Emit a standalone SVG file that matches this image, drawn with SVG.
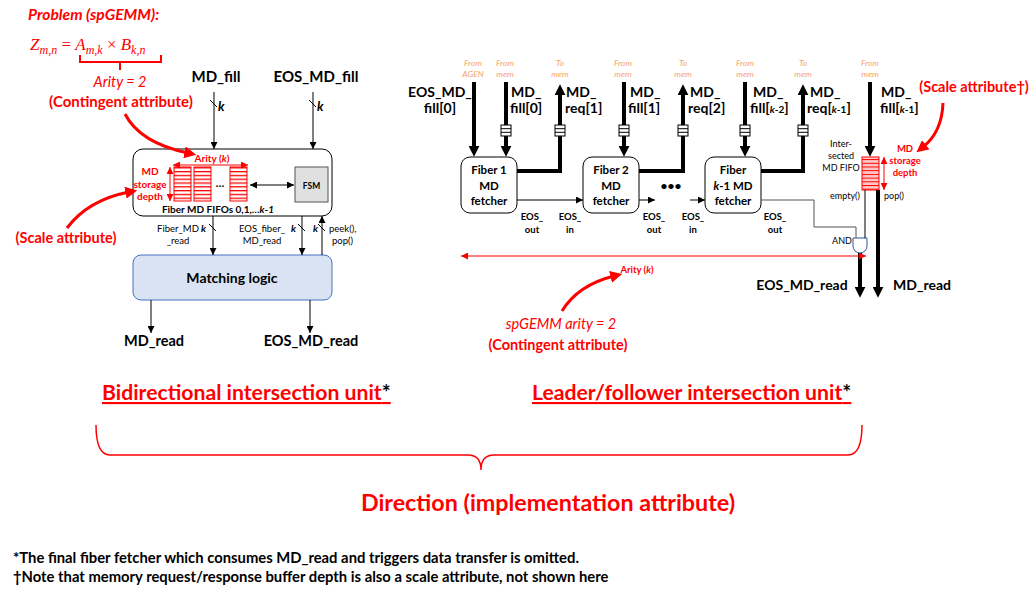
<svg xmlns="http://www.w3.org/2000/svg" width="1034" height="589" viewBox="0 0 1034 589">
<style>
text{font-family:Lato,"Open Sans","Liberation Sans",sans-serif}
.b{font-weight:bold}
.red{fill:#ff0000}
.big{font-size:15px;font-weight:bold}
.sm{font-size:10px}
.xs{font-size:8.5px}
.org{fill:#f4a36a;font-style:italic;font-size:8.5px}
.ln{stroke:#000;stroke-width:1;fill:none}
.thk{stroke:#000;stroke-width:4;fill:none}
.rln{stroke:#ff0000;stroke-width:1;fill:none}
.rcurve{stroke:#ff0000;stroke-width:3;fill:none}
.box{fill:#fff;stroke:#000;stroke-width:1}
.fifo{fill:#fff;stroke:#ff0000;stroke-width:1}
.q{fill:#fff;stroke:#000;stroke-width:1}
</style>
<defs>
<marker id="ah" viewBox="0 0 10 10" refX="10" refY="5" markerWidth="7" markerHeight="7" markerUnits="userSpaceOnUse" orient="auto-start-reverse"><path d="M0,0 L10,5 L0,10 z" fill="#000"/></marker>
<marker id="aht" viewBox="0 0 10 10" refX="2" refY="5" markerWidth="11" markerHeight="11" markerUnits="userSpaceOnUse" orient="auto-start-reverse"><path d="M0,0 L10,5 L0,10 z" fill="#000"/></marker>
<marker id="ahr" viewBox="0 0 10 10" refX="10" refY="5" markerWidth="7" markerHeight="7" markerUnits="userSpaceOnUse" orient="auto-start-reverse"><path d="M0,0 L10,5 L0,10 z" fill="#ff0000"/></marker>
<marker id="ahrc" viewBox="0 0 10 10" refX="3" refY="5" markerWidth="12" markerHeight="12" markerUnits="userSpaceOnUse" orient="auto"><path d="M0,0 L10,5 L0,10 z" fill="#ff0000"/></marker>
<pattern id="stripe" x="0" y="0" width="20" height="3.8" patternUnits="userSpaceOnUse"><rect width="20" height="3.8" fill="#fff"/><rect width="20" height="1.3" fill="#ff0000"/></pattern>
<pattern id="stripe2" x="0" y="0" width="20" height="3.7" patternUnits="userSpaceOnUse"><rect width="20" height="3.7" fill="#ffc8c8"/><rect width="20" height="1" fill="#ff0000"/></pattern>
</defs>

<!-- Problem statement -->
<g id="problem">
<text x="28" y="20" class="red b" font-size="15.6" font-style="italic">Problem (spGEMM):</text>
<text x="30" y="50" class="red" font-size="17" font-style="italic" style="font-family:'Liberation Serif',serif">Z<tspan font-size="12" dy="4">m,n</tspan><tspan dy="-4" font-style="normal"> = </tspan>A<tspan font-size="12" dy="4">m,k</tspan><tspan dy="-4" font-style="normal"> × </tspan>B<tspan font-size="12" dy="4">k,n</tspan></text>
<path d="M80,55 L80,62 L161,62 L161,55 M120,62 L120,70" stroke="#ff0000" stroke-width="2" fill="none"/>
<text x="120" y="87" class="red" font-size="14.5" font-style="italic" text-anchor="middle">Arity = 2</text>
<text x="121" y="107" class="red b" font-size="15" text-anchor="middle">(Contingent attribute)</text>
</g>

<g id="scale-left">
<text x="66" y="243" class="red b" font-size="14.5" text-anchor="middle">(Scale attribute)</text>
</g>

<!-- Bidirectional unit -->
<g id="fifo-block">
<rect x="133" y="149" width="199" height="67" rx="10" class="box"/>
<text x="212" y="162" class="red b sm" text-anchor="middle">Arity (<tspan font-style="italic">k</tspan>)</text>
<rect x="174" y="167" width="17" height="34" fill="url(#stripe)" stroke="#ff0000"/>
<rect x="194" y="167" width="17" height="34" fill="url(#stripe)" stroke="#ff0000"/>
<rect x="230" y="167" width="17" height="34" fill="url(#stripe)" stroke="#ff0000"/>
<text x="220" y="187" font-size="11" class="b" text-anchor="middle">…</text>
<text x="150" y="175" class="red b sm" text-anchor="middle">MD</text>
<text x="150" y="188" class="red b sm" text-anchor="middle">storage</text>
<text x="150" y="200" class="red b sm" text-anchor="middle">depth</text>
<text x="218" y="213" class="b sm" text-anchor="middle">Fiber MD FIFOs 0,1,…<tspan font-style="italic">k</tspan>-<tspan font-style="italic">1</tspan></text>
</g>
<g id="fsm">
<rect x="295" y="167" width="33" height="35" fill="#e0e0e0" stroke="#555"/>
<text x="311.5" y="189" font-size="8.5" class="b" text-anchor="middle">FSM</text>
</g>
<g id="matching-logic">
<rect x="133" y="255" width="199" height="45" rx="8" fill="#dae3f3" stroke="#4472c4" stroke-width="1"/>
<text x="232" y="283" class="b" font-size="14" text-anchor="middle">Matching logic</text>
</g>

<g id="left-labels">
<text x="216" y="82" class="big" text-anchor="middle">MD_fill</text>
<text x="316" y="82" class="big" text-anchor="middle">EOS_MD_fill</text>
<text x="218" y="111" class="b" font-size="13" font-style="italic">k</text>
<text x="317" y="111" class="b" font-size="13" font-style="italic">k</text>
<text x="178" y="232" font-size="9.5" text-anchor="middle">Fiber_MD</text>
<text x="178" y="244" font-size="9.5" text-anchor="middle">_read</text>
<text x="201" y="232" font-size="10" font-style="italic" class="b">k</text>
<text x="262" y="232" font-size="9.5" text-anchor="middle">EOS_fiber_</text>
<text x="262" y="244" font-size="9.5" text-anchor="middle">MD_read</text>
<text x="291" y="232" font-size="10" font-style="italic" class="b">k</text>
<text x="313" y="232" font-size="10" font-style="italic" class="b">k</text>
<text x="329" y="232" font-size="9.5">peek(),</text>
<text x="332" y="244" font-size="9.5">pop()</text>
<text x="154" y="346" class="b" font-size="14.5" text-anchor="middle">MD_read</text>
<text x="311" y="346" class="b" font-size="14.5" text-anchor="middle">EOS_MD_read</text>
</g>

<!-- Right unit nodes -->
<g id="fiber1">
<rect x="461" y="157" width="56" height="56" rx="9" class="box"/>
<text x="489" y="174" class="b" font-size="11.5" text-anchor="middle">Fiber 1</text>
<text x="489" y="190" class="b" font-size="11.5" text-anchor="middle">MD</text>
<text x="489" y="205" class="b" font-size="11.5" text-anchor="middle">fetcher</text>
</g>
<g id="fiber2">
<rect x="583" y="157" width="56" height="56" rx="9" class="box"/>
<text x="611" y="174" class="b" font-size="11.5" text-anchor="middle">Fiber 2</text>
<text x="611" y="190" class="b" font-size="11.5" text-anchor="middle">MD</text>
<text x="611" y="205" class="b" font-size="11.5" text-anchor="middle">fetcher</text>
</g>
<g id="fiberk1">
<rect x="705" y="157" width="56" height="56" rx="9" class="box"/>
<text x="733" y="174" class="b" font-size="11.5" text-anchor="middle">Fiber</text>
<text x="733" y="190" class="b" font-size="11.5" text-anchor="middle"><tspan font-style="italic">k</tspan>-1 MD</text>
<text x="733" y="205" class="b" font-size="11.5" text-anchor="middle">fetcher</text>
</g>
<g id="intersected-fifo">
<rect x="862" y="157" width="17" height="33" fill="url(#stripe2)" stroke="#ff0000"/>
<text x="841" y="147" font-size="9" text-anchor="middle">Inter-</text>
<text x="841" y="159" font-size="9" text-anchor="middle">sected</text>
<text x="841" y="171" font-size="9" text-anchor="middle">MD FIFO</text>
<text x="905" y="152" class="red b" font-size="9.5" text-anchor="middle">MD</text>
<text x="905" y="164" class="red b" font-size="9.5" text-anchor="middle">storage</text>
<text x="905" y="176" class="red b" font-size="9.5" text-anchor="middle">depth</text>
<text x="845" y="199" font-size="9" text-anchor="middle">empty()</text>
<text x="894" y="199" font-size="9" text-anchor="middle">pop()</text>
</g>
<g id="and-gate">
<path d="M853,238 L867,238 L867,246 A7,7 0 0 1 853,246 Z" fill="#fff" stroke="#2f5597" stroke-width="1"/>
<text x="842" y="244" font-size="9" text-anchor="middle">AND</text>
</g>

<g id="right-labels">
<text x="473" y="66" class="org" text-anchor="middle">From</text>
<text x="473" y="77" class="org" text-anchor="middle">AGEN</text>
<text x="505" y="66" class="org" text-anchor="middle">From</text>
<text x="505" y="77" class="org" text-anchor="middle">mem</text>
<text x="560" y="66" class="org" text-anchor="middle">To</text>
<text x="560" y="77" class="org" text-anchor="middle">mem</text>
<text x="623" y="66" class="org" text-anchor="middle">From</text>
<text x="623" y="77" class="org" text-anchor="middle">mem</text>
<text x="683" y="66" class="org" text-anchor="middle">To</text>
<text x="683" y="77" class="org" text-anchor="middle">mem</text>
<text x="745" y="66" class="org" text-anchor="middle">From</text>
<text x="745" y="77" class="org" text-anchor="middle">mem</text>
<text x="803" y="66" class="org" text-anchor="middle">To</text>
<text x="803" y="77" class="org" text-anchor="middle">mem</text>
<text x="870" y="66" class="org" text-anchor="middle">From</text>
<text x="870" y="77" class="org" text-anchor="middle">mem</text>

<text x="440" y="97" class="b" font-size="14" text-anchor="middle">EOS_MD_</text>
<text x="440" y="113" class="b" font-size="14" text-anchor="middle">fill[0]</text>
<text x="511" y="97" class="b" font-size="14">MD_</text>
<text x="510" y="113" class="b" font-size="14">fill[0]</text>
<text x="566" y="97" class="b" font-size="14">MD_</text>
<text x="565" y="113" class="b" font-size="14">req[1]</text>
<text x="630" y="97" class="b" font-size="14">MD_</text>
<text x="628" y="113" class="b" font-size="14">fill[1]</text>
<text x="690" y="97" class="b" font-size="14">MD_</text>
<text x="688" y="113" class="b" font-size="14">req[2]</text>
<text x="753" y="97" class="b" font-size="14">MD_</text>
<text x="750" y="113" class="b" font-size="14">fill[<tspan font-size="10" font-style="italic">k</tspan><tspan font-size="10">-2</tspan>]</text>
<text x="810" y="97" class="b" font-size="14">MD_</text>
<text x="807" y="113" class="b" font-size="14">req[<tspan font-size="10" font-style="italic">k</tspan><tspan font-size="10">-1</tspan>]</text>
<text x="881" y="97" class="b" font-size="14">MD_</text>
<text x="880" y="113" class="b" font-size="14">fill[<tspan font-size="10" font-style="italic">k</tspan><tspan font-size="10">-1</tspan>]</text>

<text x="532" y="220" class="b" font-size="9.5" text-anchor="middle">EOS_</text>
<text x="532" y="233" class="b" font-size="9.5" text-anchor="middle">out</text>
<text x="570" y="220" class="b" font-size="9.5" text-anchor="middle">EOS_</text>
<text x="570" y="233" class="b" font-size="9.5" text-anchor="middle">in</text>
<text x="654" y="220" class="b" font-size="9.5" text-anchor="middle">EOS_</text>
<text x="654" y="233" class="b" font-size="9.5" text-anchor="middle">out</text>
<text x="693" y="220" class="b" font-size="9.5" text-anchor="middle">EOS_</text>
<text x="693" y="233" class="b" font-size="9.5" text-anchor="middle">in</text>
<text x="775" y="220" class="b" font-size="9.5" text-anchor="middle">EOS_</text>
<text x="775" y="233" class="b" font-size="9.5" text-anchor="middle">out</text>
<text x="671" y="190" class="b" font-size="12" text-anchor="middle">•••</text>

<text x="802" y="290" class="b" font-size="14" text-anchor="middle">EOS_MD_read</text>
<text x="922" y="290" class="b" font-size="14" text-anchor="middle">MD_read</text>
<text x="974" y="92" class="red b" font-size="14.5" text-anchor="middle">(Scale attribute†)</text>
<text x="637" y="273" class="red b" font-size="9.5" text-anchor="middle">Arity (<tspan font-style="italic">k</tspan>)</text>
<text x="561" y="329" class="red" font-size="14.5" font-style="italic" text-anchor="middle">spGEMM arity = 2</text>
<text x="558" y="350" class="red b" font-size="14.5" text-anchor="middle">(Contingent attribute)</text>
</g>

<!-- Titles and footnotes -->
<g id="titles">
<text x="102" y="400" class="red b" font-size="21.2" text-decoration="underline">Bidirectional intersection unit<tspan fill="#000" text-decoration="none">*</tspan></text>
<text x="532" y="400" class="red b" font-size="21.2" text-decoration="underline">Leader/follower intersection unit<tspan fill="#000" text-decoration="none">*</tspan></text>
<path d="M96,425 Q96,455 110,455 L468,455 Q481,455 481,470 Q481,455 494,455 L848,455 Q862,455 862,425" stroke="#ff0000" stroke-width="1.5" fill="none"/>
<text x="548" y="511" class="red b" font-size="23.3" text-anchor="middle">Direction (implementation attribute)</text>
<text x="13" y="563" class="b" font-size="14.8">*The final fiber fetcher which consumes MD_read and triggers data transfer is omitted.</text>
<text x="13" y="582" class="b" font-size="14.8">†Note that memory request/response buffer depth is also a scale attribute, not shown here</text>
</g>

<!-- Connectors -->
<g id="connectors">
<line x1="214" y1="92" x2="214" y2="149" class="ln" marker-end="url(#ah)"/>
<line x1="210" y1="100" x2="217" y2="107" class="ln"/>
<line x1="313" y1="92" x2="313" y2="149" class="ln" marker-end="url(#ah)"/>
<line x1="309" y1="100" x2="316" y2="107" class="ln"/>
<line x1="173" y1="165" x2="248" y2="165" class="rln" marker-start="url(#ahr)" marker-end="url(#ahr)"/>
<line x1="170" y1="167" x2="170" y2="201" class="rln" marker-start="url(#ahr)" marker-end="url(#ahr)"/>
<line x1="250" y1="185" x2="294" y2="185" class="ln" marker-start="url(#ah)" marker-end="url(#ah)"/>
<line x1="213" y1="216" x2="213" y2="255" class="ln" marker-end="url(#ah)"/>
<line x1="209" y1="224" x2="216" y2="231" class="ln"/>
<line x1="302" y1="216" x2="302" y2="255" class="ln" marker-end="url(#ah)"/>
<line x1="298" y1="224" x2="305" y2="231" class="ln"/>
<line x1="322" y1="255" x2="322" y2="216" class="ln" marker-end="url(#ah)"/>
<line x1="318" y1="224" x2="325" y2="231" class="ln"/>
<line x1="151" y1="300" x2="151" y2="333" class="ln" marker-end="url(#ah)"/>
<line x1="310" y1="300" x2="310" y2="333" class="ln" marker-end="url(#ah)"/>
<path d="M125,114 Q140,143 188,153" class="rcurve" marker-end="url(#ahrc)"/>
<path d="M67,228 Q88,200 129,192" class="rcurve" marker-end="url(#ahrc)"/>
<path d="M943,103 Q942,132 923,147" class="rcurve" marker-end="url(#ahrc)"/>
<path d="M562,311 Q578,285 614,276" class="rcurve" marker-end="url(#ahrc)"/>
<line x1="474" y1="82" x2="474" y2="148" class="thk" marker-end="url(#aht)"/>
<line x1="506" y1="82" x2="506" y2="148" class="thk" marker-end="url(#aht)"/>
<path d="M517,171 L560,171 L560,93" class="thk" marker-end="url(#aht)"/>
<line x1="624" y1="82" x2="624" y2="148" class="thk" marker-end="url(#aht)"/>
<path d="M639,171 L683,171 L683,93" class="thk" marker-end="url(#aht)"/>
<line x1="745" y1="82" x2="745" y2="148" class="thk" marker-end="url(#aht)"/>
<path d="M761,171 L803,171 L803,93" class="thk" marker-end="url(#aht)"/>
<line x1="870" y1="82" x2="870" y2="148" class="thk" marker-end="url(#aht)"/>
<line x1="878" y1="190" x2="878" y2="289" class="thk" marker-end="url(#aht)"/>
<line x1="860" y1="253" x2="860" y2="289" class="thk" marker-end="url(#aht)"/>
<rect x="501" y="125" width="10" height="11" class="q"/><path d="M501,128.7 L511,128.7 M501,132.3 L511,132.3" class="ln"/>
<rect x="555" y="125" width="10" height="11" class="q"/><path d="M555,128.7 L565,128.7 M555,132.3 L565,132.3" class="ln"/>
<rect x="619" y="125" width="10" height="11" class="q"/><path d="M619,128.7 L629,128.7 M619,132.3 L629,132.3" class="ln"/>
<rect x="678" y="125" width="10" height="11" class="q"/><path d="M678,128.7 L688,128.7 M678,132.3 L688,132.3" class="ln"/>
<rect x="740" y="125" width="10" height="11" class="q"/><path d="M740,128.7 L750,128.7 M740,132.3 L750,132.3" class="ln"/>
<rect x="798" y="125" width="10" height="11" class="q"/><path d="M798,128.7 L808,128.7 M798,132.3 L808,132.3" class="ln"/>
<line x1="517" y1="200" x2="583" y2="200" class="ln" marker-end="url(#ah)"/>
<line x1="639" y1="200" x2="655" y2="200" class="ln" marker-end="url(#ah)"/>
<line x1="690" y1="200" x2="705" y2="200" class="ln" marker-end="url(#ah)"/>
<path d="M761,200 L814,200 L814,227 L856,227 L856,238" stroke="#555" stroke-width="1" fill="none"/>
<line x1="865" y1="190" x2="865" y2="238" class="ln"/>
<line x1="884" y1="157" x2="884" y2="190" class="rln" marker-start="url(#ahr)" marker-end="url(#ahr)"/>
<line x1="461" y1="256" x2="866" y2="256" class="rln" marker-start="url(#ahr)" marker-end="url(#ahr)"/>
</g>
</svg>
